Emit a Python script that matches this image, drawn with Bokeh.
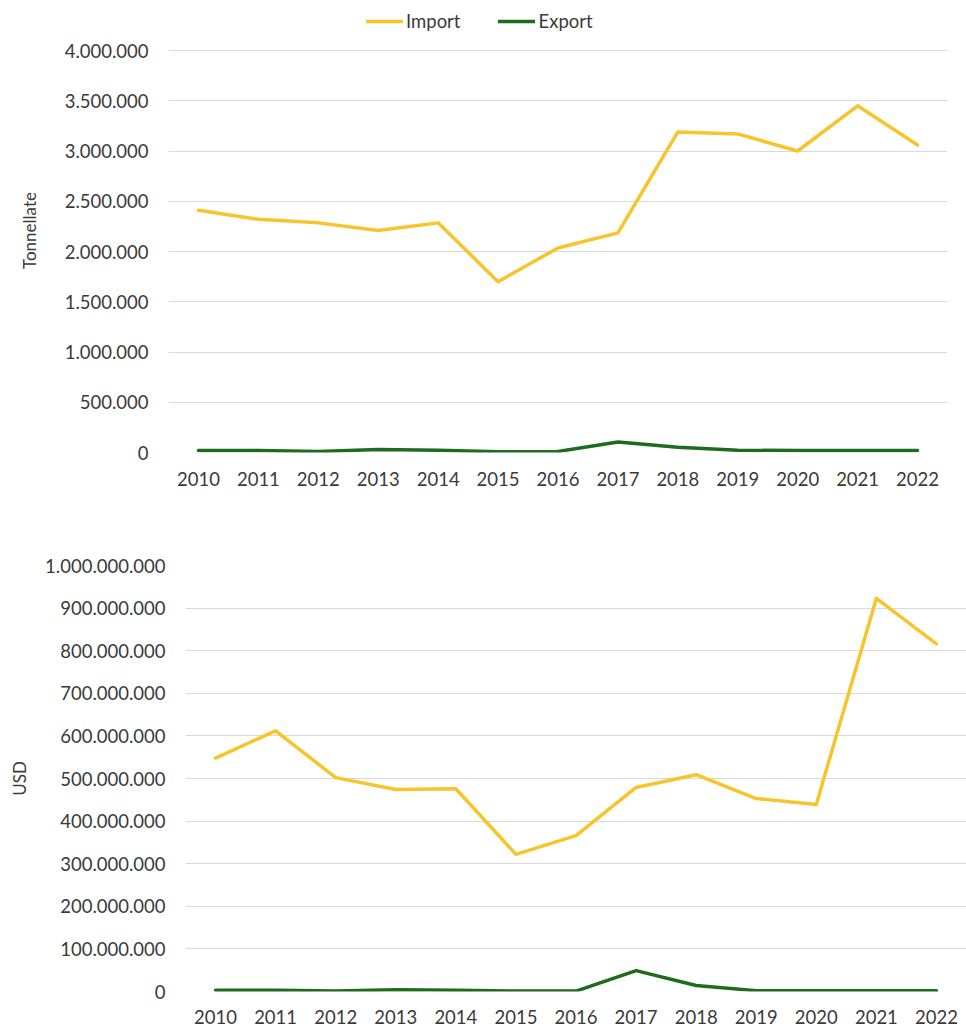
from bokeh.plotting import figure
from bokeh.models import Range1d, FixedTicker, CustomJSTickFormatter, Legend, LegendItem
from bokeh.embed import file_html
from bokeh.resources import INLINE

years = [str(y) for y in range(2010, 2023)]

# Tonnellate
import_t = [2410000, 2320000, 2285000, 2210000, 2285000, 1700000, 2035000,
            2185000, 3190000, 3170000, 3000000, 3450000, 3060000]
export_t = [20000, 20000, 10000, 30000, 22000, 8000, 10000,
            105000, 53000, 22000, 20000, 20000, 20000]

# USD
import_usd = [548e6, 612e6, 502e6, 474e6, 476e6, 322e6, 366e6,
              479e6, 509e6, 453e6, 439e6, 923e6, 816e6]
export_usd = [3e6, 3e6, 1e6, 4e6, 3e6, 1e6, 1e6,
              49e6, 14e6, 2e6, 2e6, 2e6, 2e6]

y1_ticks = [0, 500000, 1000000, 1500000, 2000000, 2500000, 3000000, 3500000, 4000000]
y2_ticks = [i * 100000000 for i in range(11)]

IMP = "#F7C52B"
EXP = "#1E6B1E"
FONT = "Lato"
TXT = "#3a3a3a"
FS = "18.5px"

fmt = CustomJSTickFormatter(code="""
return Math.round(tick).toString().replace(/\\B(?=(\\d{3})+(?!\\d))/g, '.');
""")


def style(p, ytitle, standoff, xstandoff):
    p.outline_line_color = None
    p.xgrid.grid_line_color = None
    p.ygrid.grid_line_color = "#D9D9D9"
    p.ygrid.grid_line_width = 1
    for ax in (p.xaxis[0], p.yaxis[0]):
        ax.axis_line_color = None
        ax.major_tick_line_color = None
        ax.minor_tick_line_color = None
        ax.major_tick_out = 0
        ax.major_tick_in = 0
        ax.major_label_text_font = FONT
        ax.major_label_text_font_size = FS
        ax.major_label_text_color = TXT
    p.xaxis.major_label_standoff = xstandoff
    p.yaxis.major_label_standoff = 20
    p.yaxis.formatter = fmt
    p.yaxis.axis_label = ytitle
    p.yaxis.axis_label_text_font = FONT
    p.yaxis.axis_label_text_font_style = "normal"
    p.yaxis.axis_label_text_font_size = "17px"
    p.yaxis.axis_label_text_color = TXT
    p.yaxis.axis_label_standoff = standoff


# frame extends above the 4.000.000 gridline to host the legend
p1 = figure(x_range=years, y_range=Range1d(0, 4418000), width=966, height=515,
            output_backend="svg", toolbar_location=None,
            min_border_left=168, min_border_right=19, min_border_top=8,
            min_border_bottom=63)
p1.yaxis.ticker = FixedTicker(ticks=y1_ticks)
r1 = p1.line(years, import_t, line_color=IMP, line_width=3.5, line_cap="round", line_join="round")
r2 = p1.line(years, export_t, line_color=EXP, line_width=3.5, line_cap="round", line_join="round")
style(p1, "Tonnellate", 22, 19)

legend = Legend(items=[LegendItem(label="Import", renderers=[r1]),
                       LegendItem(label="Export", renderers=[r2])],
                orientation="horizontal", location=(198, 420),
                label_text_font=FONT, label_text_font_size=FS,
                label_text_color=TXT, glyph_width=37, label_standoff=3,
                spacing=38, border_line_color=None, background_fill_alpha=0,
                padding=4, margin=0)
p1.add_layout(legend, "center")

p2 = figure(x_range=years, y_range=Range1d(0, 1000000000), width=966, height=513,
            output_backend="svg", toolbar_location=None,
            min_border_left=185, min_border_right=0, min_border_top=50,
            min_border_bottom=37)
p2.yaxis.ticker = FixedTicker(ticks=y2_ticks)
p2.line(years, import_usd, line_color=IMP, line_width=3.5, line_cap="round", line_join="round")
p2.line(years, export_usd, line_color=EXP, line_width=3.5, line_cap="round", line_join="round")
style(p2, "USD", 12, 18)

open("out.html", "w").write(file_html([p1, p2], INLINE))
